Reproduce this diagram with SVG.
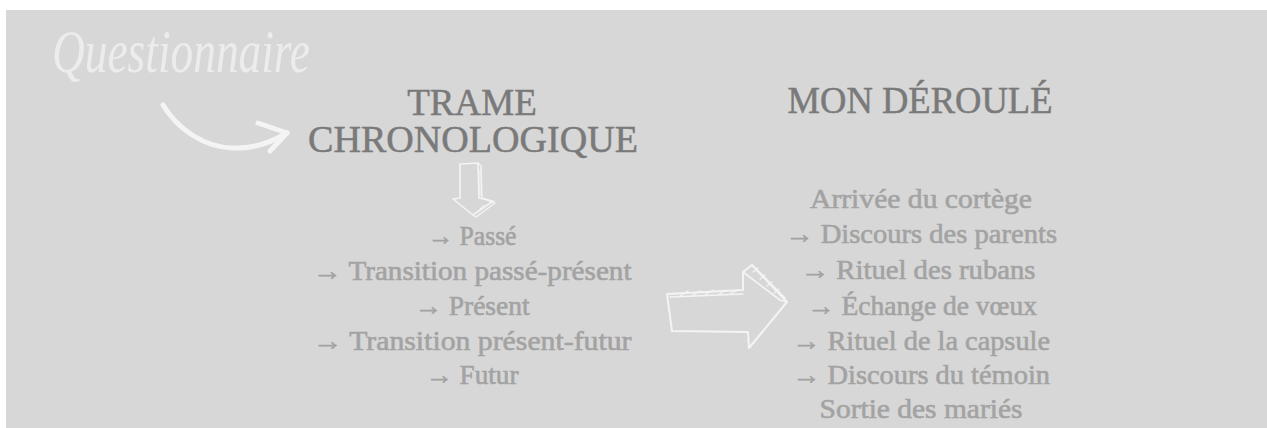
<svg xmlns="http://www.w3.org/2000/svg" width="1267" height="428" viewBox="0 0 1267 428">
  <style>
    .bg { fill: #d7d7d7; }
    .script { font-family: "Liberation Serif", "DejaVu Serif", serif; font-style: italic; font-size: 62px; fill: #ececec; }
    .head { font-family: "Liberation Serif", "DejaVu Serif", serif; font-size: 37px; fill: #7a7a7a; stroke: #7a7a7a; stroke-width: 0.5; text-anchor: middle; }
    .item { font-family: "Liberation Serif", "DejaVu Serif", serif; font-size: 27px; fill: #a3a3a3; stroke: #a3a3a3; stroke-width: 0.6; text-anchor: middle; }
    .sketch { fill: none; stroke: #f4f4f4; stroke-linecap: round; stroke-linejoin: round; }
  </style>
  <rect x="0" y="0" width="1267" height="428" fill="#ffffff"/>
  <rect class="bg" x="6" y="10" width="1261" height="418"/>

  <g id="questionnaire">
    <text class="script" x="52" y="72" textLength="258" lengthAdjust="spacingAndGlyphs">Questionnaire</text>
  </g>

  <g id="trame">
    <text class="head" x="472" y="115">TRAME</text>
    <text class="head" x="473" y="152" textLength="330" lengthAdjust="spacingAndGlyphs">CHRONOLOGIQUE</text>
  </g>

  <g id="trame-list">
    <text class="item" x="472" y="245" textLength="89" lengthAdjust="spacingAndGlyphs">→ Passé</text>
    <text class="item" x="472" y="280" textLength="319" lengthAdjust="spacingAndGlyphs">→ Transition passé-présent</text>
    <text class="item" x="472" y="315" textLength="115" lengthAdjust="spacingAndGlyphs">→ Présent</text>
    <text class="item" x="472" y="350" textLength="319" lengthAdjust="spacingAndGlyphs">→ Transition présent-futur</text>
    <text class="item" x="472" y="384" textLength="93" lengthAdjust="spacingAndGlyphs">→ Futur</text>
  </g>

  <g id="deroule">
    <text class="head" x="920" y="113" textLength="265" lengthAdjust="spacingAndGlyphs">MON DÉROULÉ</text>
  </g>

  <g id="deroule-list">
    <text class="item" x="921" y="208" textLength="222" lengthAdjust="spacingAndGlyphs">Arrivée du cortège</text>
    <text class="item" x="921" y="243" textLength="272" lengthAdjust="spacingAndGlyphs">→ Discours des parents</text>
    <text class="item" x="918" y="279" textLength="235" lengthAdjust="spacingAndGlyphs">→ Rituel des rubans</text>
    <text class="item" x="922" y="315" textLength="230" lengthAdjust="spacingAndGlyphs">→ Échange de vœux</text>
    <text class="item" x="921" y="350" textLength="258" lengthAdjust="spacingAndGlyphs">→ Rituel de la capsule</text>
    <text class="item" x="921" y="384" textLength="258" lengthAdjust="spacingAndGlyphs">→ Discours du témoin</text>
    <text class="item" x="921" y="418" textLength="203" lengthAdjust="spacingAndGlyphs">Sortie des mariés</text>
  </g>

  <g id="connectors">
    <!-- curved arrow from Questionnaire -->
    <path class="sketch" stroke-width="5" d="M163 105 C 178 130, 205 147, 232 148 C 252 149, 272 142, 287 133"/>
    <path class="sketch" stroke-width="5" d="M258 123 L 287 133 L 270 151"/>

    <!-- down arrow -->
    <path class="sketch" stroke-width="1.6" d="M460 164 L 478 163 L 479 198 L 493 201 L 473 215 L 453 199 L 460 198 Z"/>
    <path class="sketch" stroke-width="1.4" d="M478 163 L 481 166 L 482 198 L 495 203 L 476 217 L 473 215"/>
    <path class="sketch" stroke-width="1" d="M480 170 L 480 196 M 484 205 L 478 211"/>

    <!-- right arrow -->
    <path class="sketch" stroke-width="2" d="M667 294 L 743 290 L 743 272 L 752 265 L 787 302 L 749 348 L 748 332 L 672 331 L 667 294"/>
    <path class="sketch" stroke-width="1.6" d="M670 297 L 743 294 M 743 272 L 780 300 L 787 302 M 752 265 L 785 298"/>
    <path class="sketch" stroke-width="1.2" d="M680 296 L 688 291 M 692 296 L 700 291 M 705 295 L 713 290 M 718 295 L 726 290 M 730 294 L 738 290 M 753 272 L 758 268 M 760 279 L 765 275 M 767 286 L 772 282 M 774 293 L 779 289"/>
  </g>
</svg>
